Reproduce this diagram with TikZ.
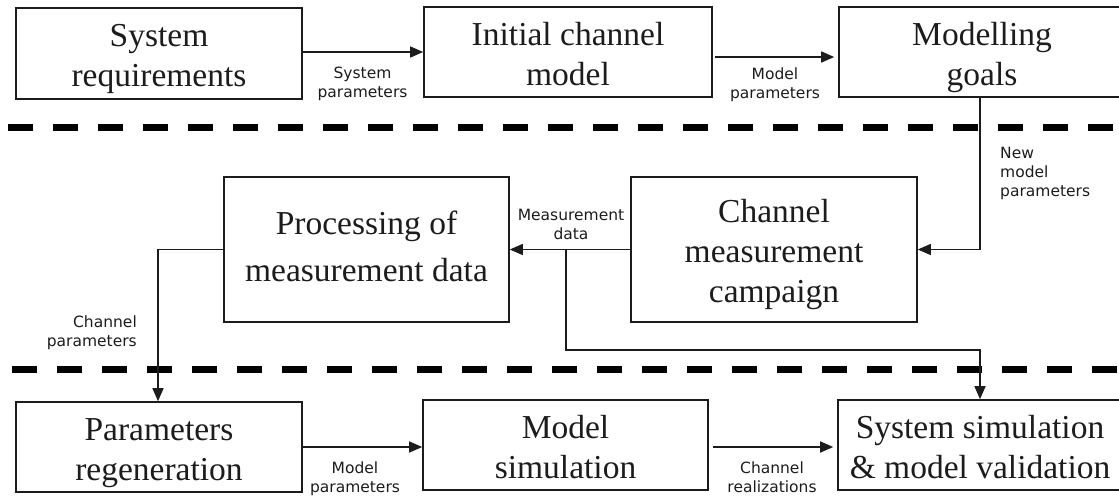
\documentclass[tikz,border=0pt]{standalone}
\usepackage{fontspec}
\setmainfont{Liberation Serif}
\newfontfamily\labelfont{DejaVu Sans}
\usetikzlibrary{arrows.meta}
\definecolor{ink}{RGB}{28,28,28}
% invisible struts that set the vertical placement of the text inside a box
\newcommand{\topstrut}{\rule{0pt}{34pt}}
\newcommand{\midstrut}{\rule{0pt}{24pt}}
\newcommand{\botstrut}{\rule[-8pt]{0pt}{8pt}}

\begin{document}
\begin{tikzpicture}[x=1pt,y=-1pt,
  stage/.style={draw=ink, line width=1.6pt, rectangle, inner sep=0pt,
    align=center, text=ink, font=\fontsize{33.5}{40}\selectfont},
  rowbox/.style={stage, minimum width=286pt, minimum height=90pt},
  midbox/.style={stage, minimum width=286pt, minimum height=145pt},
  flow/.style={draw=ink, line width=1.5pt, -{Triangle[length=13pt,width=11pt]}},
  note/.style={inner sep=0pt, align=center, text=ink,
    font=\labelfont\fontsize{15.5}{19}\selectfont},
  divider/.style={draw=black, line width=7pt, dash pattern=on 25pt off 20pt}]

\useasboundingbox (0,0) rectangle (1119,499);
\clip (0,0) rectangle (1119,499);

% phase separators
\draw[divider] (8,127) -- (1135,127);
\draw[divider] (12,369) -- (1135,369);

% top row
\node[rowbox, minimum height=91pt] (req) at (159,53.5) {\topstrut System\\requirements\botstrut};
\node[rowbox, minimum width=288pt] (init) at (568,52) {\topstrut Initial channel\\model\botstrut};
\node[rowbox] (goals) at (982,52) {\topstrut Modelling\\goals\botstrut};

% middle row
\node[midbox, minimum width=285pt] (proc) at (366.5,249.5) {\midstrut Processing of\\[7pt]measurement data\botstrut};
\node[midbox] (meas) at (774,249.5) {\topstrut Channel\\measurement\\campaign\botstrut};

% bottom row
\node[rowbox] (regen) at (159,447) {\topstrut Parameters\\regeneration\botstrut};
\node[rowbox, minimum width=285pt] (sim) at (565.5,445) {\topstrut Model\\simulation\botstrut};
\node[rowbox, minimum width=284pt] (valid) at (980,445) {\topstrut System simulation\\\& model validation\botstrut};

% connectors
\draw[flow] (req.east |- init.west) -- (init.west);
\draw[flow, shorten <=2pt, shorten >=4pt] ([yshift=-5pt]init.east) -- ([yshift=-5pt]goals.west);
\coordinate (drop) at ([xshift=-2pt]goals.south);
\draw[flow] (drop) |- (meas.east);
\draw[flow] (meas.west) -- (proc.east);
\coordinate (tap) at (566,249.5);
\coordinate (bend) at (566,350);
\draw[flow] (tap) -- (bend) -| (valid.north);
\draw[flow] (proc.west) -| ([xshift=-1pt]regen.north);
\draw[flow] (regen.east) -- (regen.east -| sim.west);
\draw[flow, shorten <=4pt, shorten >=4pt] ([yshift=-2pt]sim.east) -- ([yshift=-2pt]sim.east -| valid.west);

% connector labels
\node[note, anchor=north] (l1) at (362.5,67) {System\\parameters};
\node[note, anchor=north] (l2) at (775,68) {Model\\parameters};
\node[note, anchor=north west, align=left] (l3) at (1000,147) {New\\model\\parameters};
\node[note, anchor=south] (l4) at (571,240) {Measurement\\data};
\node[note, anchor=north east, align=right] (l5) at (137,316) {Channel\\parameters};
\node[note, anchor=north] (l6) at (355,462) {Model\\parameters};
\node[note, anchor=north] (l7) at (772,462) {Channel\\realizations};
\end{tikzpicture}
\end{document}
